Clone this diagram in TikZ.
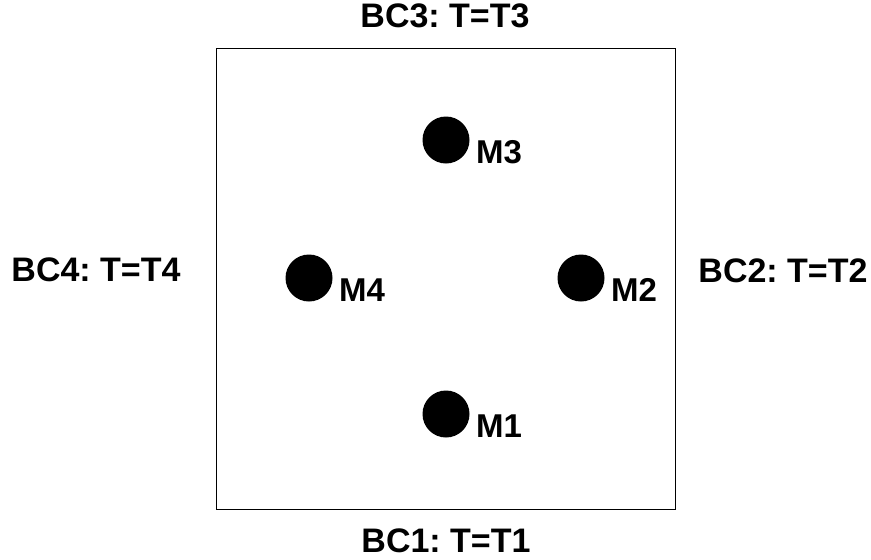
\documentclass[tikz,border=0pt]{standalone}
\usepackage{fontspec}
\setmainfont{Liberation Sans}
\frenchspacing
\begin{document}
\begin{tikzpicture}[x=1pt,y=-1pt,
  domainbox/.style={draw=black, line width=0.9pt, minimum width=459pt, minimum height=461pt, inner sep=0pt},
  probe/.style={circle, fill=black, minimum size=47pt, inner sep=0pt},
  bclabel/.style={inner sep=0pt, anchor=base, font=\fontsize{34}{38}\selectfont\bfseries},
  mlabel/.style={inner sep=0pt, anchor=base west, font=\fontsize{33}{38}\selectfont\bfseries}]
  \useasboundingbox (0,0) rectangle (871,560);

  % square domain
  \node[domainbox] (domain) at (445.5,278.5) {};

  % measurement points
  \node[probe] (m1) at (446,414) {};
  \node[probe] (m2) at (581,278) {};
  \node[probe] (m3) at (446,140) {};
  \node[probe] (m4) at (309,278) {};

  \node[mlabel] (l1) at ([xshift=30pt,yshift=-23pt]m1.center) {M1};
  \node[mlabel] (l2) at ([xshift=30pt,yshift=-23pt]m2.center) {M2};
  \node[mlabel] (l3) at ([xshift=30pt,yshift=-23pt]m3.center) {M3};
  \node[mlabel] (l4) at ([xshift=30pt,yshift=-23pt]m4.center) {M4};

  % boundary conditions
  \node[bclabel] (bc1) at (446,552) {BC1: T=T1};
  \node[bclabel] (bc2) at (783,282) {BC2: T=T2};
  \node[bclabel] (bc3) at (445,27) {BC3: T=T3};
  \node[bclabel] (bc4) at (96,281) {BC4: T=T4};
\end{tikzpicture}
\end{document}
